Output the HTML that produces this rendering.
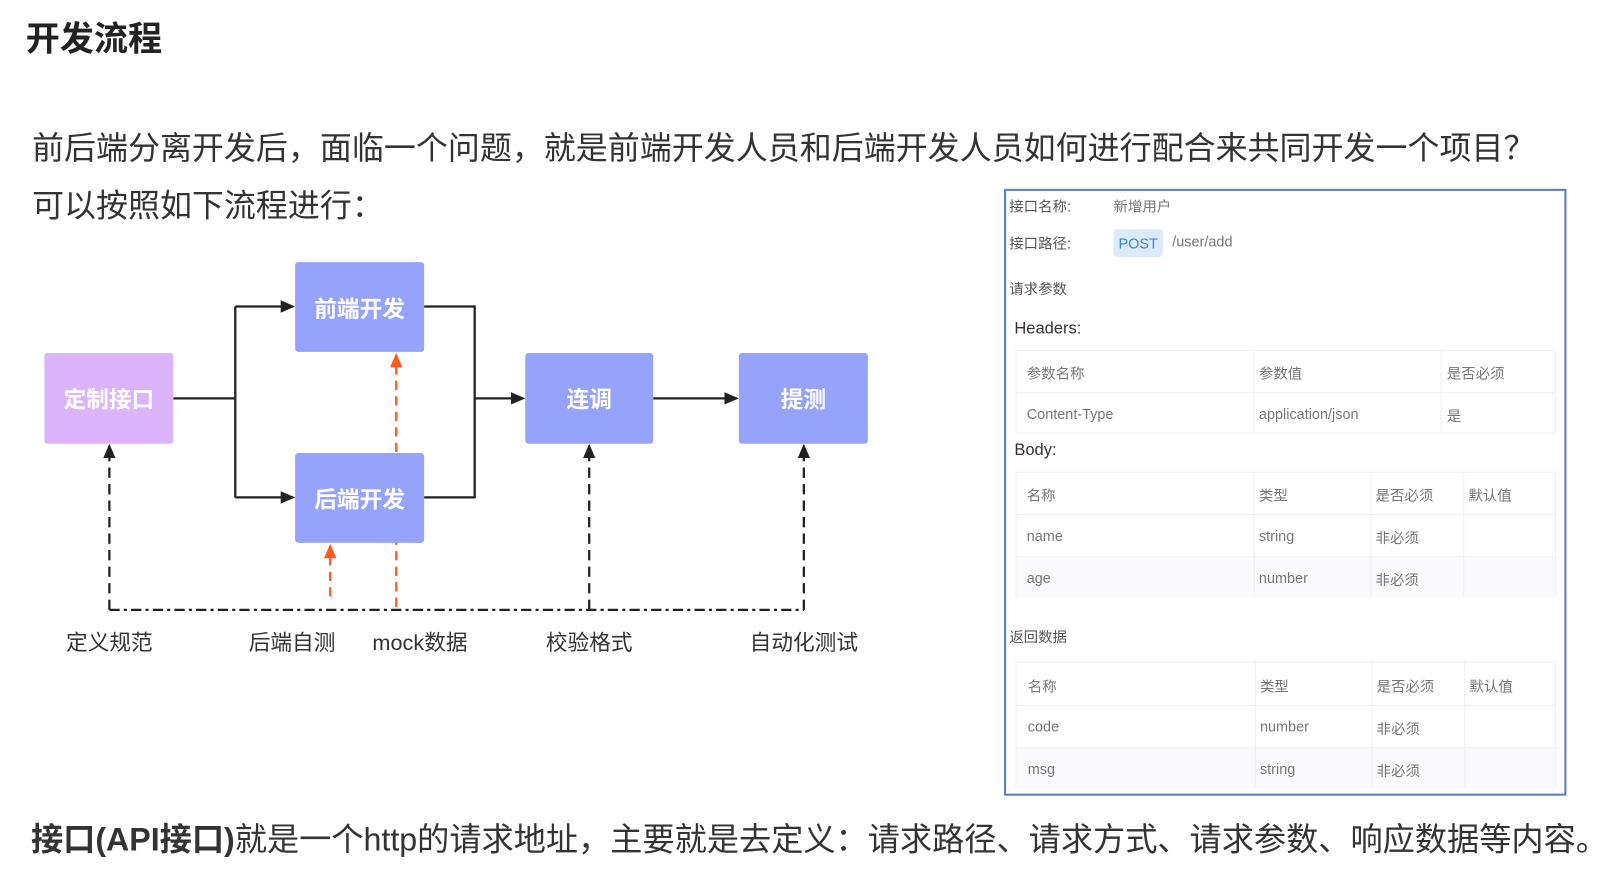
<!DOCTYPE html>
<html><head><meta charset="utf-8"><style>
html,body{margin:0;padding:0;background:#fff;width:1615px;height:870px;overflow:hidden}
#w{position:absolute;left:0;top:0;width:1565px;height:843px;transform:scale(1.0319,1.032);transform-origin:0 0;font-family:"Liberation Sans","Noto Sans CJK SC",sans-serif;color:#333}
.a{position:absolute;white-space:nowrap}
.box{position:absolute;border-radius:3px;color:#fff;font-weight:bold;font-size:22px;display:flex;align-items:center;justify-content:center;background:#95a3fb}
.lbl{position:absolute;font-size:21px;color:#333;transform:translateX(-50%);top:607px;white-space:nowrap}
.p{font-size:14px;color:#555}
.t{position:absolute;left:984px;width:524px;border:1px solid #f0f0f0;box-sizing:border-box}
.r{position:absolute;left:0;width:100%;border-top:1px solid #f0f0f0;box-sizing:border-box}
.c{position:absolute;font-size:14px;color:#777;white-space:nowrap}
.v{position:absolute;top:0;bottom:0;border-left:1px solid #f0f0f0}
</style></head><body><div id="w">
<div class="a" style="left:25px;top:11px;font-size:33px;font-weight:bold;color:#222">开发流程</div>
<div class="a" style="left:31px;top:118px;font-size:31px;color:#333">前后端分离开发后，面临一个问题，就是前端开发人员和后端开发人员如何进行配合来共同开发一个项目？</div>
<div class="a" style="left:31px;top:174px;font-size:31px;color:#333">可以按照如下流程进行：</div>

<svg class="a" style="left:0;top:0" width="900" height="700">
<defs>
<marker id="ar" markerWidth="14" markerHeight="14" refX="12" refY="7" orient="auto" markerUnits="userSpaceOnUse"><path d="M0,1 L14,7 L0,13 z" fill="#ff5a1f"/></marker>
<marker id="ak" markerWidth="14" markerHeight="14" refX="12" refY="7" orient="auto" markerUnits="userSpaceOnUse"><path d="M0,1 L14,7 L0,13 z" fill="#222"/></marker>
</defs>
<g stroke="#222" stroke-width="2.2" fill="none">
<path d="M168,386 H228 M228,297 V482"/>
<path d="M228,297 H284" marker-end="url(#ak)"/>
<path d="M228,482 H284" marker-end="url(#ak)"/>
<path d="M411,297 H460 V482 H411"/>
<path d="M460,386 H507" marker-end="url(#ak)"/>
<path d="M633,386 H714" marker-end="url(#ak)"/>
<path d="M106,591 H779" stroke-dasharray="10,4,3,4"/>
<path d="M106,591 V432" stroke-dasharray="10,6" marker-end="url(#ak)"/>
<path d="M571,591 V432" stroke-dasharray="10,6" marker-end="url(#ak)"/>
<path d="M779,591 V432" stroke-dasharray="10,6" marker-end="url(#ak)"/>
</g>
<g stroke="#ff5a1f" stroke-width="2.2" fill="none">
<path d="M320,578 V529" stroke-dasharray="9,6" marker-end="url(#ar)"/>
<path d="M384,588 V344" stroke-dasharray="9,6" marker-end="url(#ar)"/>
</g>
</svg>
<div class="box" style="left:43px;top:342px;width:125px;height:88px;background:#dbb4fb">定制接口</div>
<div class="box" style="left:286px;top:254px;width:125px;height:87px">前端开发</div>
<div class="box" style="left:286px;top:439px;width:125px;height:87px">后端开发</div>
<div class="box" style="left:509px;top:342px;width:124px;height:88px">连调</div>
<div class="box" style="left:716px;top:342px;width:125px;height:88px">提测</div>
<div class="lbl" style="left:106px">定义规范</div>
<div class="lbl" style="left:283px">后端自测</div>
<div class="lbl" style="left:407px">mock数据</div>
<div class="lbl" style="left:571px">校验格式</div>
<div class="lbl" style="left:779px">自动化测试</div>

<div class="a" style="left:973px;top:183px;width:545px;height:588px;border:2px solid #5b7fc0;box-sizing:border-box"></div>
<div class="a p" style="left:978px;top:190px">接口名称:</div>
<div class="a p" style="left:1079px;top:190px;color:#777">新增用户</div>
<div class="a p" style="left:978px;top:226px">接口路径:</div>
<div class="a" style="left:1079px;top:222px;width:48px;height:27px;background:#dcebfb;border-radius:4px;color:#3d82e0;font-size:14px;text-align:center;line-height:29px">POST</div>
<div class="a p" style="left:1136px;top:226px;color:#777">/user/add</div>
<div class="a p" style="left:978px;top:270px">请求参数</div>
<div class="a" style="left:983px;top:310px;font-size:16px;color:#333">Headers:</div>
<div class="t" style="top:339px;height:81px">
<div class="r" style="top:40px"></div>
<div class="v" style="left:230px"></div><div class="v" style="left:411px"></div>
<div class="c" style="left:10px;top:12px">参数名称</div><div class="c" style="left:235px;top:12px">参数值</div><div class="c" style="left:417px;top:12px">是否必须</div>
<div class="c" style="left:10px;top:53px">Content-Type</div><div class="c" style="left:235px;top:53px">application/json</div><div class="c" style="left:417px;top:53px">是</div>
</div>
<div class="a" style="left:983px;top:428px;font-size:16px;color:#333">Body:</div>
<div class="t" style="top:457px;height:122px">
<div class="r" style="top:81px;height:40px;background:#fafafc"></div>
<div class="r" style="top:40px"></div>
<div class="v" style="left:230px"></div><div class="v" style="left:343px"></div><div class="v" style="left:433px"></div>
<div class="c" style="left:10px;top:12px">名称</div><div class="c" style="left:235px;top:12px">类型</div><div class="c" style="left:348px;top:12px">是否必须</div><div class="c" style="left:438px;top:12px">默认值</div>
<div class="c" style="left:10px;top:53px">name</div><div class="c" style="left:235px;top:53px">string</div><div class="c" style="left:348px;top:53px">非必须</div>
<div class="c" style="left:10px;top:94px">age</div><div class="c" style="left:235px;top:94px">number</div><div class="c" style="left:348px;top:94px">非必须</div>
</div>
<div class="a p" style="left:978px;top:607px">返回数据</div>
<div class="t" style="top:641px;height:123px">
<div class="r" style="top:82px;height:40px;background:#fafafc"></div>
<div class="r" style="top:41px"></div>
<div class="v" style="left:231px"></div><div class="v" style="left:344px"></div><div class="v" style="left:434px"></div>
<div class="c" style="left:11px;top:13px">名称</div><div class="c" style="left:236px;top:13px">类型</div><div class="c" style="left:349px;top:13px">是否必须</div><div class="c" style="left:439px;top:13px">默认值</div>
<div class="c" style="left:11px;top:54px">code</div><div class="c" style="left:236px;top:54px">number</div><div class="c" style="left:349px;top:54px">非必须</div>
<div class="c" style="left:11px;top:95px">msg</div><div class="c" style="left:236px;top:95px">string</div><div class="c" style="left:349px;top:95px">非必须</div>
</div>

<div class="a" style="left:30px;top:788px;font-size:31.2px;color:#333"><b>接口(API接口)</b>就是一个http的请求地址，主要就是去定义：请求路径、请求方式、请求参数、响应数据等内容。</div>
</div></body></html>
